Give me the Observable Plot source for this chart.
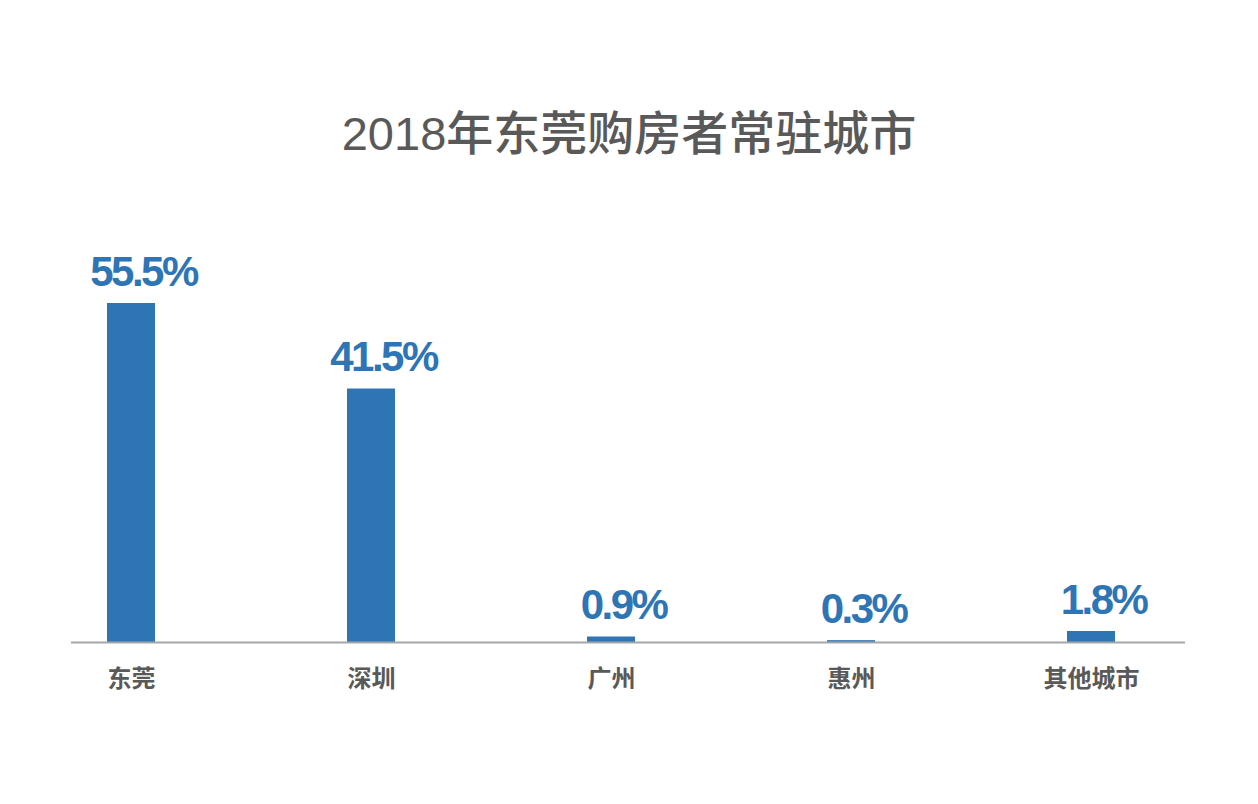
<!DOCTYPE html>
<html>
<head>
<meta charset="utf-8">
<script src="https://cdn.jsdelivr.net/npm/d3@7"></script>
<script src="https://cdn.jsdelivr.net/npm/@observablehq/plot@0.6"></script>
<style>
  html, body { margin: 0; padding: 0; background: #fff; }
  #title {
    height: 180px; box-sizing: border-box; padding-top: 102px;
    text-align: center; font-family: "Liberation Sans", "Noto Sans CJK SC", sans-serif;
    font-size: 47px; font-weight: 500; color: #595959; line-height: 56px;
  }
  #title .cjk { font-family: "Noto Sans CJK SC", sans-serif; }
</style>
</head>
<body>
<div id="title">2018<span class="cjk">年东莞购房者常驻城市</span></div>
<div id="chart"></div>
<script>
const cities = ["东莞", "深圳", "广州", "惠州", "其他城市"];
const shares = [55.5, 41.5, 0.9, 0.3, 1.8];
const valueLabels = ["55.5%", "41.5%", "0.9%", "0.3%", "1.8%"];

const data = cities.map((c, i) => ({city: c, share: shares[i], label: valueLabels[i]}));

const chart = Plot.plot({
  width: 1258,
  height: 624,
  marginLeft: 71,
  marginRight: 73,
  marginTop: 123,
  marginBottom: 162,
  x: {domain: cities, paddingInner: 0.8, paddingOuter: 0.2208, align: 0.34, label: null},
  y: {domain: [0, 55.5], axis: null},
  style: {background: "#fff"},
  marks: [
    Plot.barY(data, {x: "city", y: "share", fill: "#2E75B6"}),
    Plot.ruleY([0], {stroke: "#A6A6A6", strokeWidth: 2}),
    Plot.text(data, {
      x: "city", y: "share", text: "label", dx: 12, dy: -18, lineAnchor: "bottom",
      fill: "#2E75B6", fontSize: 42, fontWeight: "bold",
      fontFamily: "Liberation Sans, Arial, sans-serif"
    }),
    Plot.axisX({
      tickSize: 0, tickPadding: 27, fontSize: 24, fontWeight: "bold",
      fontFamily: "Noto Sans CJK SC, sans-serif", color: "#595959", label: null
    })
  ]
});
chart.querySelectorAll("text").forEach(t => {
  if (t.closest("g[aria-label='text']")) t.style.letterSpacing = "-2.5px";
});
document.getElementById("chart").appendChild(chart);
</script>
</body>
</html>
